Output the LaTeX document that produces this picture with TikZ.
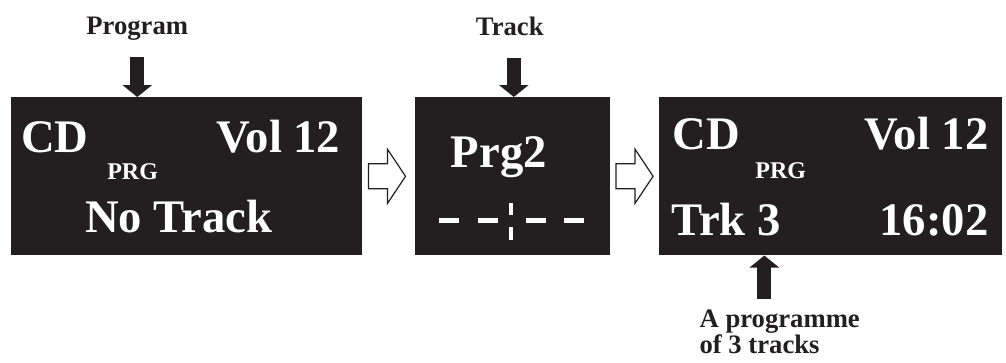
\documentclass[tikz,border=0pt]{standalone}
\usepackage{fontspec}
\setmainfont{Liberation Serif}
\usetikzlibrary{positioning, arrows.meta}
\definecolor{screenblack}{HTML}{231F20}

\begin{document}
\begin{tikzpicture}[x=0.75pt, y=0.75pt,
	screen/.style={fill=screenblack, inner sep=0pt, minimum height=118.5pt},
	lcd/.style={text=white, inner sep=0pt, font=\fontsize{35}{35}\selectfont\bfseries},
	lcdsmall/.style={text=white, inner sep=0pt, font=\fontsize{18}{18}\selectfont\bfseries},
	tag/.style={text=screenblack, inner sep=0pt, font=\fontsize{20}{17.5}\selectfont\bfseries},
	bigarrow/.style={draw=screenblack, line width=10.5pt, -{Triangle[width=21.75pt, length=9pt]}},
	hollow/.style={draw=screenblack, fill=white, line width=0.9pt, line join=miter},
	segbar/.style={draw=white, line width=3.75pt}]
			\useasboundingbox (0,0) rectangle (1006,-362);
			
			% the three displays
			\node[screen, minimum width=263.25pt, anchor=north west] (disp1) at (11,-97) {};
			\node[screen, minimum width=146.25pt, right=39pt of disp1] (disp2) {};
			\node[screen, minimum width=257.25pt, right=36.75pt of disp2] (disp3) {};
			
			% display 1
			\node[lcd, anchor=base west] (cd1) at ([shift={(10,-55)}]disp1.north west) {CD};
			\node[lcd, anchor=base east] (vol1) at ([shift={(-22,-55)}]disp1.north east) {Vol 12};
			\node[lcdsmall, anchor=base west] (prg1) at ([shift={(96,-82)}]disp1.north west) {PRG};
			\node[lcd, anchor=base] (notrack) at ([shift={(-8,-135)}]disp1.north) {No Track};
			
			% display 2
			\node[lcd, anchor=base west] (prg2) at ([shift={(36,-70)}]disp2.north west) {Prg2};
			\draw[segbar] ([shift={(24,-123)}]disp2.north west) -- ++(20,0)
				([shift={(63,-123)}]disp2.north west) -- ++(20,0)
				([shift={(111,-123)}]disp2.north west) -- ++(20,0)
				([shift={(149,-123)}]disp2.north west) -- ++(20,0);
			\draw[segbar, line width=3pt] ([shift={(96,-106)}]disp2.north west) -- ++(0,-12)
				([shift={(96,-130)}]disp2.north west) -- ++(0,-13);
			
			% display 3
			\node[lcd, anchor=base west] (cd3) at ([shift={(13,-52)}]disp3.north west) {CD};
			\node[lcd, anchor=base east] (vol3) at ([shift={(-14,-52)}]disp3.north east) {Vol 12};
			\node[lcdsmall, anchor=base west] (prg3) at ([shift={(96,-81)}]disp3.north west) {PRG};
			\node[lcd, anchor=base west] (trk3) at ([shift={(12,-138)}]disp3.north west) {Trk 3};
			\node[lcd, anchor=base east] (time3) at ([shift={(-14,-138)}]disp3.north east) {16:02};
			
			% hollow arrows between the displays
			\draw[hollow] ([shift={(6,12.5)}]disp1.east) -- ++(19,0) -- ++(0,14.5) -- ++(18,-27)
				-- ++(-18,-27) -- ++(0,14.5) -- ++(-19,0) -- cycle;
			\draw[hollow] ([shift={(6,12.5)}]disp2.east) -- ++(19,0) -- ++(0,14.5) -- ++(18,-27)
				-- ++(-18,-27) -- ++(0,14.5) -- ++(-19,0) -- cycle;
			
			% buttons
			\coordinate (prog-in) at ([shift={(-49.5,0)}]disp1.north);
			\node[tag, anchor=base] (prog) at ([shift={(0,63)}]prog-in) {Program};
			\draw[bigarrow] ([shift={(0,-23)}]prog.base) -- (prog-in);
			
			\coordinate (track-in) at ([shift={(1.5,0)}]disp2.north);
			\node[tag, anchor=base] (track) at ([shift={(-4,62)}]track-in) {Track};
			\draw[bigarrow] ([shift={(4,-23)}]track.base) -- (track-in);
			
			\coordinate (count-out) at ([shift={(-66.5,0)}]disp3.south);
			\node[tag, align=left, anchor=north west] (count) at ([shift={(-65,-54)}]count-out) {A programme\\of 3 tracks};
			\draw[bigarrow] ([shift={(0,-43)}]count-out) -- (count-out);
	\end{tikzpicture}
\end{document}
